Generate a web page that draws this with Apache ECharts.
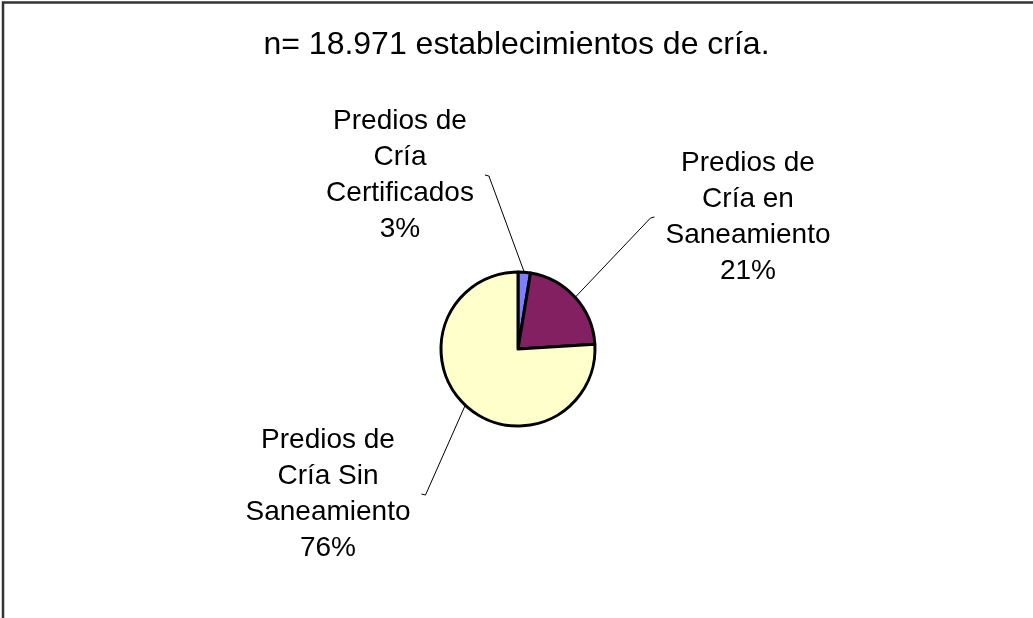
<!DOCTYPE html>
<html>
<head>
<meta charset="utf-8">
<script src="https://cdn.jsdelivr.net/npm/echarts@6/dist/echarts.min.js"></script>
<style>
html,body{margin:0;padding:0;background:#fff;}
#chart{width:1033px;height:618px;}
</style>
</head>
<body>
<div id="chart"></div>
<script>
const titleText = 'n= 18.971 establecimientos de cría.';
const categories = ['Predios de Cría Certificados', 'Predios de Cría en Saneamiento', 'Predios de Cría Sin Saneamiento'];
const labelTexts = [['Predios de', 'Cría', 'Certificados'], ['Predios de', 'Cría en', 'Saneamiento'], ['Predios de', 'Cría Sin', 'Saneamiento']];
const values = [2.6, 21.4, 76.0];
const colors = ['#8080ff', '#822062', '#ffffcc'];

// label layout (positions only)
const pieCenter = [518, 349];
const labelPos = [[400, 175], [748, 217], [328, 494]];
const gap = 11, tick = 4;

const chart = echarts.init(document.getElementById('chart'), null, {renderer: 'canvas'});
chart.setOption({
  backgroundColor: '#fff',
  animation: false,
  title: {
    text: titleText,
    left: 'center',
    top: 24,
    textStyle: {fontFamily: 'Liberation Sans, Arial, sans-serif', fontSize: 32, fontWeight: 'normal', color: '#000'}
  },
  graphic: [{
    type: 'rect', silent: true,
    shape: {x: 3, y: 2.5, width: 1100, height: 700},
    style: {fill: 'none', stroke: '#333', lineWidth: 2.5}
  }],
  series: [{
    type: 'pie',
    center: pieCenter,
    radius: 77,
    startAngle: 90,
    clockwise: true,
    avoidLabelOverlap: false,
    emphasis: {disabled: true},
    itemStyle: {borderColor: '#000', borderWidth: 3},
    label: {
      show: true,
      position: 'outside',
      fontFamily: 'Liberation Sans, Arial, sans-serif',
      fontSize: 28,
      lineHeight: 36,
      color: '#000',
      align: 'center',
      formatter: p => labelTexts[p.dataIndex].join('\n') + '\n' + Math.round(p.percent) + '%'
    },
    labelLine: {show: true, length: 10, length2: 10, lineStyle: {color: '#000', width: 1}},
    labelLayout: function (params) {
      const i = params.dataIndex;
      const pos = labelPos[i];
      const half = params.labelRect.width / 2;
      const p0 = params.labelLinePoints ? params.labelLinePoints[0] : pos;
      const dir = pos[0] > pieCenter[0] ? -1 : 1;
      const endX = pos[0] + dir * (half + gap);
      const endY = pos[1];
      return {
        x: pos[0], y: pos[1], align: 'center', verticalAlign: 'middle',
        labelLinePoints: [p0, [endX + dir * tick, endY + 1], [endX, endY]]
      };
    },
    data: categories.map((c, i) => ({name: c, value: values[i], itemStyle: {color: colors[i]}}))
  }]
});
</script>
</body>
</html>
